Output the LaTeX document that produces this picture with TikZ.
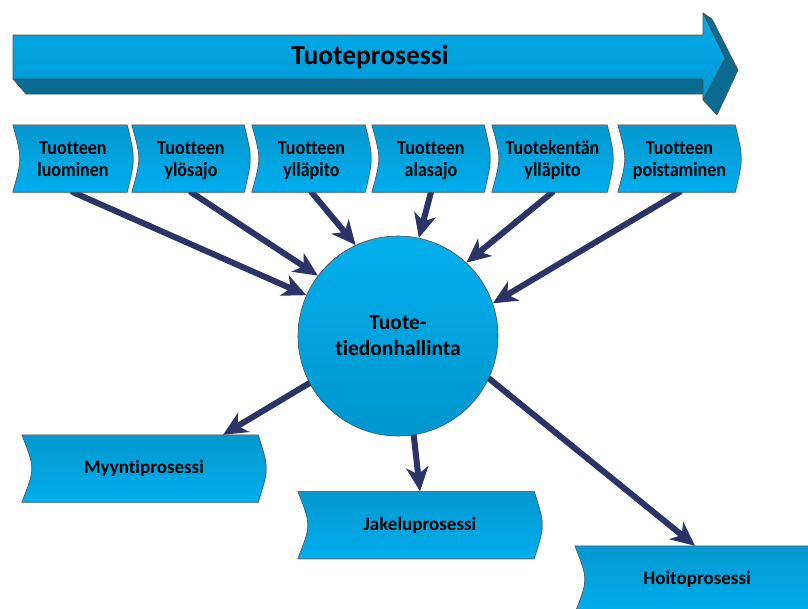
\documentclass[tikz,border=0pt]{standalone}
\usepackage{fontspec}
\setmainfont{Carlito}[Ligatures=NoCommon]
\newfontfamily\stagefont{Carlito}[Ligatures=NoCommon,FakeStretch=0.9]
\usetikzlibrary{arrows.meta,calc,shadows}

\definecolor{flowline}{HTML}{2A3466}
\definecolor{boxtop}{HTML}{0598D1}
\definecolor{boxbot}{HTML}{00AEEC}
\definecolor{facefront}{HTML}{00AAE8}
\definecolor{facefrontlow}{HTML}{0099D6}
\definecolor{faceside}{HTML}{0A6A8F}
\definecolor{outline}{HTML}{4A4F55}
\definecolor{discTop}{HTML}{02B0EC}
\definecolor{discBot}{HTML}{0096CF}

\pgfdeclarelayer{wires}
\pgfdeclarelayer{shapes}
\pgfsetlayers{wires,shapes,main}

% Banner shape behind a node: concave left side, convex right side.
% #1 node name, #2 depth of the left dip, #3 bulge of the right side
\newcommand{\bannerpath}[3]{%
  \path[chevfill] (#1.north west) -- ($(#1.north east)+(-#3,0)$)
    .. controls ($(#1.east)+(#3/3,0)$) .. ($(#1.south east)+(-#3,0)$)
    -- (#1.south west)
    .. controls ($(#1.west)+(#2*4/3,0)$) .. (#1.north west) -- cycle;}

\begin{document}
\begin{tikzpicture}[x=1pt,y=-1pt,
  chevfill/.style={top color=boxtop,bottom color=boxbot,draw=outline,line width=0.6pt,
    drop shadow={shadow xshift=1.2pt,shadow yshift=-1.2pt,opacity=0.22}},
  stagebox/.style={rectangle,inner sep=0pt,minimum height=67pt,align=center,
    font=\stagefont\fontsize{20}{21.5}\selectfont\bfseries,
    execute at begin node={\rule{0pt}{42pt}},execute at end node={\strut}},
  procbox/.style={rectangle,inner sep=0pt,minimum width=244pt,minimum height=67pt,
    font=\fontsize{19}{22}\selectfont\bfseries},
  flow/.style={draw=flowline,line width=6pt,line cap=round,
    -{Stealth[length=24pt,width=22pt,inset=7pt]}},
  face/.style={draw=outline,line width=0.6pt,line join=round}
]
\useasboundingbox (0,0) rectangle (808,608);
\clip (0,0) rectangle (808,608);

% Process arrow across the top (3-D block arrow)
\fill[faceside,face] (13,79) -- (703,79) -- (703,94) -- (26,94) -- cycle;
\fill[faceside,face] (703,13) -- (712,19) -- (738,70) -- (725,58) -- cycle;
\fill[faceside,face] (725,58) -- (738,70) -- (717,115) -- (703,100) -- cycle;
\path[face,top color=facefront,bottom color=facefrontlow]
  (13,35) -- (703,35) -- (703,13) -- (725,58) -- (703,100) -- (703,79) -- (13,79) -- cycle;
\node[font=\fontsize{27.5}{30}\selectfont\bfseries] (title) at (370,57) {Tuoteprosessi};

% Life-cycle stages
\node[stagebox,minimum width=120pt] (s1) at (73,158.5)    {Tuotteen\\luominen};
\node[stagebox,minimum width=118pt] (s2) at (191,158.5)   {Tuotteen\\ylösajo};
\node[stagebox,minimum width=119pt] (s3) at (311.5,158.5) {Tuotteen\\ylläpito};
\node[stagebox,minimum width=118pt] (s4) at (431,158.5)   {Tuotteen\\alasajo};
\node[stagebox,minimum width=121pt] (s5) at (552.5,158.5) {Tuotekentän\\ylläpito};
\node[stagebox,minimum width=123pt] (s6) at (679.5,158.5) {Tuotteen\\poistaminen};

% Central hub
\node[circle,minimum size=200pt,inner sep=0pt,align=center,
      top color=discTop,bottom color=discBot,draw=outline,line width=0.6pt,
      font=\fontsize{21.5}{26}\selectfont\bfseries] (c) at (398,336)
      {Tuote-\\tiedonhallinta};

% Downstream processes
\node[procbox] (m) at (144,468.5) {Myyntiprosessi};
\node[procbox] (j) at (420,525)   {Jakeluprosessi};
\node[procbox] (h) at (697,579.5) {Hoitoprosessi};

\begin{pgfonlayer}{shapes}
  \bannerpath{s1}{7}{6}
  \bannerpath{s2}{7}{6}
  \bannerpath{s3}{7}{6}
  \bannerpath{s4}{7}{6}
  \bannerpath{s5}{7}{6}
  \bannerpath{s6}{7}{6}
  \bannerpath{m}{10}{8}
  \bannerpath{j}{10}{8}
  \bannerpath{h}{10}{8}
\end{pgfonlayer}

\begin{pgfonlayer}{wires}
  \draw[flow] (s1.south) -- (c.156);
  \draw[flow] (s2.south) -- (c.143);
  \draw[flow] (s3.south) -- (c.115);
  \draw[flow] (s4.south) -- (c.78);
  \draw[flow] (s5.south) -- (c.47);
  \draw[flow] (s6.south) -- (c.19);
  \draw[flow] (c.208) -- ($(m.north)+(79,0)$);
  \draw[flow] (c.279) -- (j.north);
  \draw[flow] (c.335) -- ($(h.north)+(-2,0)$);
\end{pgfonlayer}
\end{tikzpicture}
\end{document}
